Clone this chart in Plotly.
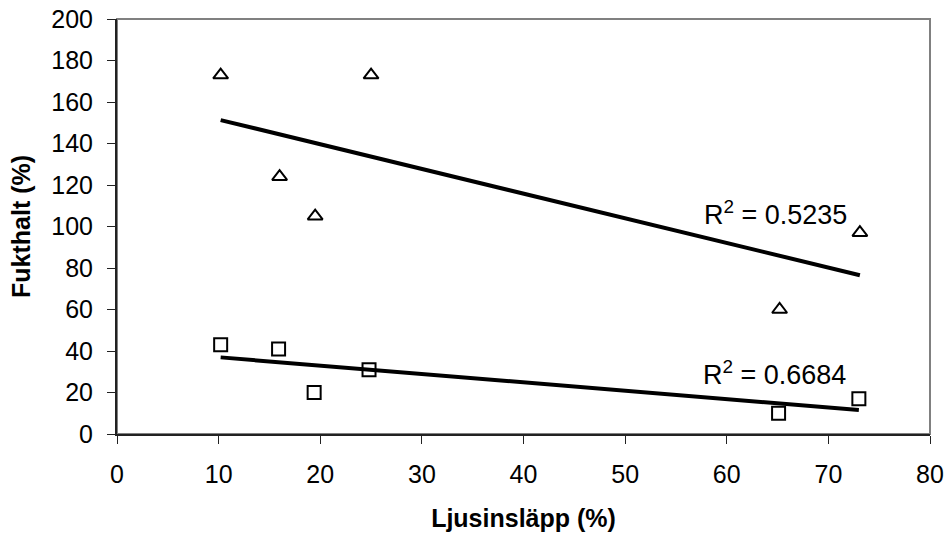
import numpy as np
import plotly.graph_objects as go

# Data
tri_x = [10.2, 16.0, 19.5, 25.0, 65.2, 73.1]
tri_y = [173, 124, 105, 173, 60, 97]
sq_x = [10.2, 15.9, 19.4, 24.8, 65.1, 73.0]
sq_y = [43, 41, 20, 31, 10, 17]
r2_labels = ["R<sup>2</sup> = 0.5235", "R<sup>2</sup> = 0.6684"]
r2_pos_x = [64.8, 64.7]
r2_pos_y = [106.5, 29.4]
x_ticks = [0, 10, 20, 30, 40, 50, 60, 70, 80]
y_ticks = [0, 20, 40, 60, 80, 100, 120, 140, 160, 180, 200]

FONT = "Liberation Sans, Arial, sans-serif"

fig = go.Figure()

def trend(xs, ys):
    k, m = np.polyfit(xs, ys, 1)
    xx = np.array([min(xs), max(xs)])
    return xx, k * xx + m

for xs, ys in [(tri_x, tri_y), (sq_x, sq_y)]:
    tx, ty = trend(xs, ys)
    fig.add_trace(go.Scatter(x=tx, y=ty, mode="lines",
                             line=dict(color="black", width=4), hoverinfo="skip"))

fig.add_trace(go.Scatter(x=tri_x, y=tri_y, mode="markers",
                         marker=dict(symbol="triangle-up-open", size=13,
                                     color="black", line=dict(width=2, color="black"))))
fig.add_trace(go.Scatter(x=sq_x, y=sq_y, mode="markers",
                         marker=dict(symbol="square-open", size=13,
                                     color="black", line=dict(width=2, color="black"))))

for t, ax, ay in zip(r2_labels, r2_pos_x, r2_pos_y):
    fig.add_annotation(x=ax, y=ay, text=t, showarrow=False,
                       font=dict(family=FONT, size=27, color="black"))

fig.add_shape(type="rect", xref="paper", yref="paper", x0=0, y0=0, x1=1, y1=1,
              line=dict(color="#808080", width=2), layer="below")

fig.update_layout(
    width=948, height=537,
    margin=dict(l=117, r=18, t=19, b=103),
    paper_bgcolor="white", plot_bgcolor="white",
    showlegend=False,
    font=dict(family=FONT, size=25, color="black"),
    xaxis=dict(range=[0, 80], tickvals=x_ticks, showgrid=False, zeroline=False,
               showline=True, linecolor="#222222", linewidth=2, automargin=False,
               ticks="outside", ticklen=8, tickcolor="#222222", tickwidth=1,
               ticklabelstandoff=9,
               title=dict(text="<b>Ljusinsläpp (%)</b>", font=dict(size=25), standoff=22),
               tickfont=dict(size=25)),
    yaxis=dict(range=[0, 200], tickvals=y_ticks, showgrid=False, zeroline=False,
               showline=True, linecolor="#222222", linewidth=2, automargin=False,
               ticks="outside", ticklen=8, tickcolor="#222222", tickwidth=1,
               ticklabelstandoff=9,
               title=dict(text="<b>Fukthalt (%)</b>", font=dict(size=25), standoff=14),
               tickfont=dict(size=25)),
)

fig.write_html("out.html")
